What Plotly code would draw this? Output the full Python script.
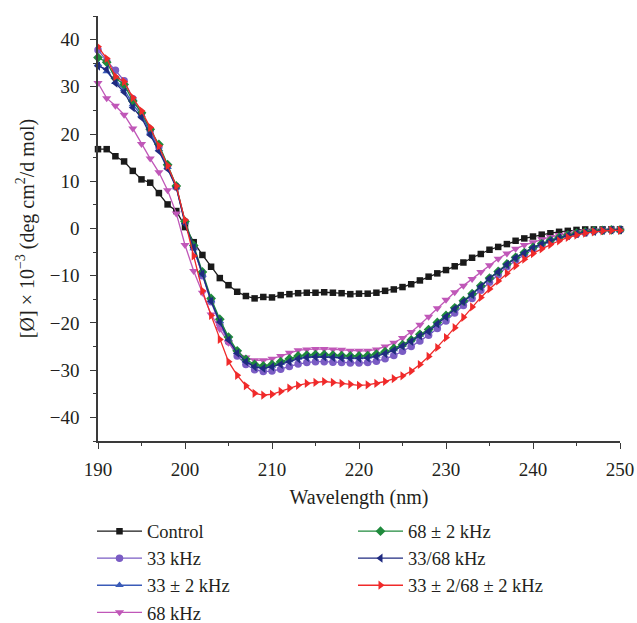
import plotly.graph_objects as go

wavelength = list(range(190, 251))

control = [16.8, 16.8, 15.3, 14.2, 12.2, 10.4, 9.7, 7.5, 5.1, 3.7,
           0.3, -2.9, -5.6, -8.1, -10.5, -12.0, -13.4, -14.3, -14.8, -14.5,
           -14.6, -14.1, -13.9, -13.7, -13.6, -13.6, -13.5, -13.6, -13.7, -13.9,
           -13.8, -13.8, -13.6, -13.2, -12.9, -12.4, -11.8, -11.0, -10.2, -9.5,
           -8.8, -8.0, -7.2, -6.2, -5.4, -4.5, -3.9, -3.3, -2.6, -2.1,
           -1.7, -1.3, -1.0, -0.7, -0.5, -0.3, -0.2, -0.2, -0.2, -0.2, -0.2]

khz33 = [37.8, 35.5, 33.5, 31.3, 27.5, 24.3, 20.7, 17.3, 13.3, 8.8,
         1.5, -4.0, -10.0, -15.5, -20.3, -24.0, -27.0, -28.8, -29.9, -30.3,
         -30.2, -29.8, -29.2, -28.7, -28.4, -28.2, -28.2, -28.3, -28.4, -28.5,
         -28.5, -28.4, -28.1, -27.6, -26.9, -26.0, -25.0, -23.8, -22.6, -21.2,
         -19.6, -17.9, -16.3, -14.8, -13.1, -11.4, -9.8, -8.1, -6.7, -5.5,
         -4.4, -3.5, -2.7, -2.1, -1.6, -1.2, -0.9, -0.6, -0.4, -0.3, -0.3]

khz33pm2 = [34.8, 33.3, 31.0, 29.5, 26.3, 24.0, 20.3, 16.8, 13.0, 8.7,
            1.3, -4.2, -9.8, -15.2, -19.6, -23.4, -26.2, -28.0, -29.1, -29.4,
            -29.1, -28.5, -27.9, -27.4, -27.1, -27.0, -27.0, -27.1, -27.2, -27.3,
            -27.3, -27.2, -26.9, -26.3, -25.6, -24.7, -23.7, -22.5, -21.6, -20.0,
            -18.5, -16.9, -15.4, -13.9, -12.2, -10.5, -9.1, -7.5, -6.1, -5.1,
            -4.0, -3.2, -2.5, -1.9, -1.4, -1.0, -0.7, -0.5, -0.4, -0.3, -0.3]

khz68 = [30.8, 27.6, 26.0, 24.1, 21.2, 17.9, 14.8, 11.9, 8.1, 3.2,
         -3.5, -9.0, -13.6, -18.2, -21.3, -24.2, -26.3, -27.3, -27.9, -27.9,
         -27.6, -27.0, -26.3, -25.8, -25.6, -25.5, -25.5, -25.6, -25.7, -25.9,
         -25.9, -25.9, -25.6, -25.0, -24.2, -23.2, -21.9, -20.4, -18.7, -16.9,
         -15.1, -13.5, -12.1, -10.7, -9.2, -7.8, -6.4, -5.3, -4.3, -3.5,
         -2.9, -2.3, -1.8, -1.4, -1.1, -0.8, -0.6, -0.5, -0.4, -0.3, -0.3]

khz68pm2 = [36.2, 35.2, 31.8, 30.5, 27.0, 24.5, 21.0, 17.8, 13.5, 9.0,
            1.5, -3.6, -9.2, -14.8, -19.2, -23.0, -25.9, -27.7, -28.8, -29.1,
            -28.8, -28.2, -27.6, -27.0, -26.8, -26.7, -26.7, -26.8, -26.9, -27.0,
            -27.0, -26.9, -26.6, -26.1, -25.4, -24.6, -23.6, -22.4, -21.4, -19.9,
            -18.4, -16.8, -15.3, -13.8, -12.1, -10.5, -9.1, -7.5, -6.1, -5.1,
            -4.0, -3.2, -2.5, -1.9, -1.4, -1.0, -0.7, -0.5, -0.4, -0.3, -0.3]

khz33_68 = [34.4, 33.7, 30.8, 28.9, 25.6, 23.5, 19.8, 16.4, 12.6, 8.7,
            1.0, -4.0, -9.6, -15.4, -19.8, -23.6, -26.4, -28.2, -29.3, -29.6,
            -29.3, -28.8, -28.2, -27.6, -27.3, -27.2, -27.2, -27.3, -27.4, -27.5,
            -27.5, -27.4, -27.1, -26.5, -25.8, -24.9, -23.9, -22.7, -21.8, -20.2,
            -18.7, -17.0, -15.5, -14.0, -12.3, -10.6, -9.2, -7.6, -6.2, -5.2,
            -4.1, -3.3, -2.6, -2.0, -1.5, -1.1, -0.8, -0.6, -0.4, -0.3, -0.3]

khz33pm2_68pm2 = [38.5, 36.0, 32.2, 31.1, 27.7, 24.9, 21.4, 17.5, 13.3, 9.0,
                  1.8, -5.8, -13.2, -18.4, -23.5, -28.2, -31.1, -33.3, -34.9, -35.3,
                  -35.1, -34.5, -33.8, -33.2, -32.8, -32.6, -32.4, -32.6, -32.8, -33.0,
                  -33.2, -33.1, -32.8, -32.4, -31.8, -31.2, -30.2, -28.8, -27.1, -25.2,
                  -23.1, -21.0, -18.8, -16.6, -14.6, -12.8, -11.1, -9.5, -7.9, -6.5,
                  -5.3, -4.3, -3.4, -2.6, -1.9, -1.4, -1.0, -0.7, -0.5, -0.4, -0.4]

x_ticks = [190, 200, 210, 220, 230, 240, 250]
y_ticks = [-40, -30, -20, -10, 0, 10, 20, 30, 40]

series = [
    ("Control", control, "#1a1a1a", "square", 6.5, "legend"),
    ("33 kHz", khz33, "#7a5cc4", "circle", 7.5, "legend"),
    ("33 ± 2 kHz", khz33pm2, "#3a5bb8", "triangle-up", 7.5, "legend"),
    ("68 kHz", khz68, "#c057b8", "triangle-down", 8, "legend"),
    ("68 ± 2 kHz", khz68pm2, "#1f8a3c", "diamond", 7.5, "legend2"),
    ("33/68 kHz", khz33_68, "#1f2a80", "triangle-left", 8, "legend2"),
    ("33 ± 2/68 ± 2 kHz", khz33pm2_68pm2, "#f02a2a", "triangle-right", 8, "legend2"),
]

fig = go.Figure()
for name, vals, color, sym, size, leg in series:
    fig.add_trace(go.Scatter(
        x=wavelength, y=vals, name=name, mode="lines+markers",
        line=dict(color=color, width=1.3),
        marker=dict(symbol=sym, size=size, color=color),
        cliponaxis=False, legend=leg,
    ))

font_family = "Liberation Serif"
axis_color = "#3a3a3a"

fig.update_layout(
    width=637, height=623,
    margin=dict(l=98, r=17, t=16, b=182, autoexpand=False),
    paper_bgcolor="white", plot_bgcolor="white",
    font=dict(family=font_family, size=19, color="#231f20"),
    xaxis=dict(
        range=[190, 250], tickvals=x_ticks, ticks="outside", ticklen=6, tickwidth=1.3,
        tickcolor=axis_color, showline=True, linecolor=axis_color, linewidth=1.5,
        showgrid=False, zeroline=False, automargin=False, ticklabelstandoff=4,
        tickangle=0,
        minor=dict(dtick=5, ticks="outside", ticklen=3.5, tickcolor=axis_color, tickwidth=1.2),
        title=dict(text="Wavelength (nm)", font=dict(size=20), standoff=11),
        tickfont=dict(size=19),
    ),
    yaxis=dict(
        range=[-45, 45], tickvals=y_ticks, ticks="outside", ticklen=6, tickwidth=1.3,
        tickcolor=axis_color, showline=True, linecolor=axis_color, linewidth=1.5,
        showgrid=False, zeroline=False, automargin=False, ticklabelstandoff=7,
        ticktext=[str(v).replace("-", "\u2212") for v in y_ticks],
        minor=dict(dtick=5, ticks="outside", ticklen=3.5, tickcolor=axis_color, tickwidth=1.2),
        title=dict(text="[Ø] × 10<sup>−3</sup> (deg cm<sup>2</sup>/d mol)", font=dict(size=20), standoff=10),
        tickfont=dict(size=19),
    ),
    legend=dict(x=-0.0115, y=-0.1685,
                xanchor="left", yanchor="top", bgcolor="rgba(0,0,0,0)",
                font=dict(size=18.5), tracegroupgap=0, itemwidth=45),
    legend2=dict(x=0.4885, y=-0.1685,
                 xanchor="left", yanchor="top", bgcolor="rgba(0,0,0,0)",
                 font=dict(size=18.5), tracegroupgap=0, itemwidth=45),
)

fig.write_html("out.html")
